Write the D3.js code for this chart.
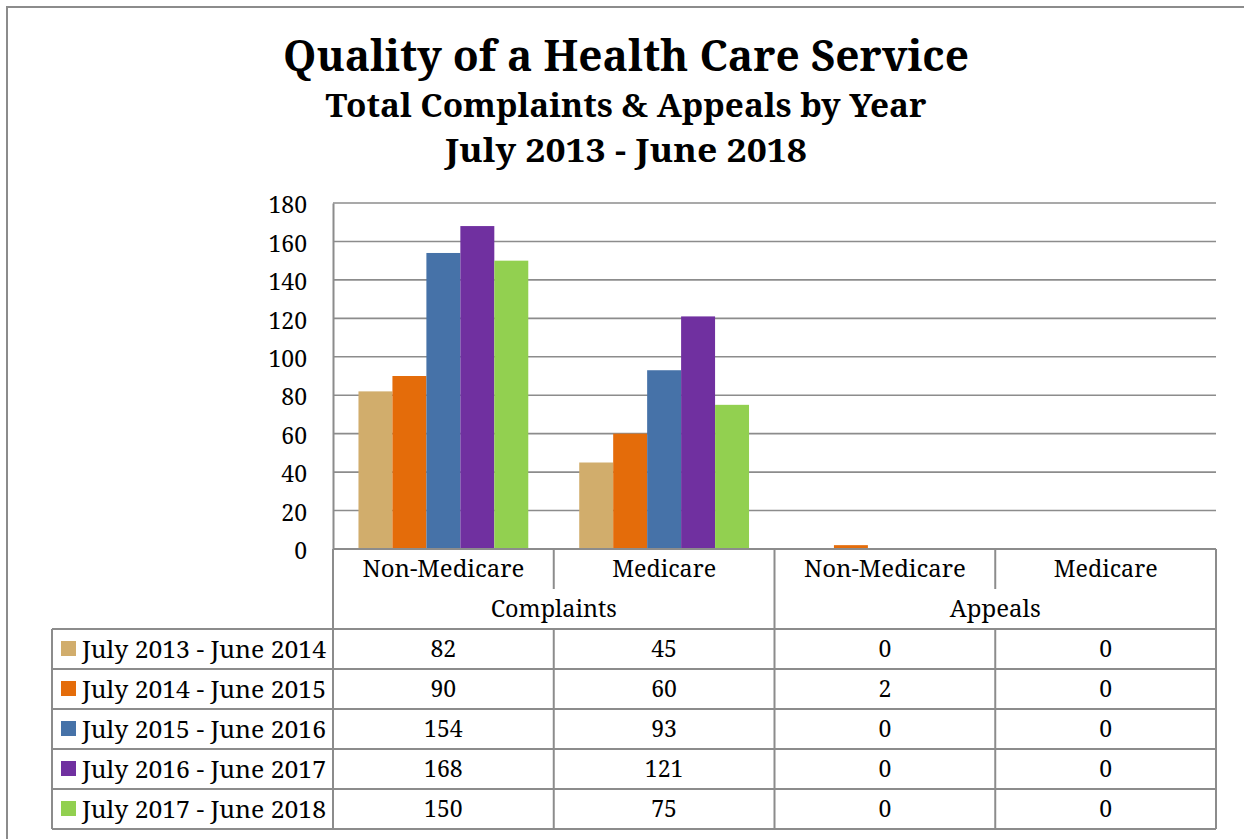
<!DOCTYPE html>
<html><head><meta charset="utf-8">
<script src="https://cdn.jsdelivr.net/npm/d3@7"></script>
<style>html,body{margin:0;padding:0;background:#fff;}svg{display:block;}</style>
</head><body>
<svg id="chart" width="1244" height="839"></svg>
<script>
const titleLines = ["Quality of a Health Care Service", "Total Complaints & Appeals by Year", "July 2013 - June 2018"];
const categories = ["Non-Medicare", "Medicare", "Non-Medicare", "Medicare"];
const groups = ["Complaints", "Appeals"];
const seriesNames = ["July 2013 - June 2014", "July 2014 - June 2015", "July 2015 - June 2016", "July 2016 - June 2017", "July 2017 - June 2018"];
const seriesColors = ["#D1AD6C", "#E46C0A", "#4672A8", "#7030A0", "#92D050"];
const v2013 = [82, 45, 0, 0];
const v2014 = [90, 60, 2, 0];
const v2015 = [154, 93, 0, 0];
const v2016 = [168, 121, 0, 0];
const v2017 = [150, 75, 0, 0];
const seriesValues = [v2013, v2014, v2015, v2016, v2017];
const yTicks = [0, 20, 40, 60, 80, 100, 120, 140, 160, 180];

(function () {
const svg = d3.select("#chart");
const FONT = "Noto Serif";
const GRID = "#8c8c8c";

// page border
svg.append("line").attr("x1", 7).attr("x2", 7).attr("y1", 6).attr("y2", 839).attr("stroke", GRID).attr("stroke-width", 2);
svg.append("line").attr("x1", 6).attr("x2", 1244).attr("y1", 7).attr("y2", 7).attr("stroke", GRID).attr("stroke-width", 2);

// titles
const tinfo = [{y: 71, size: 44, len: 686}, {y: 117, size: 32, len: 601}, {y: 162, size: 32, len: 362}];
titleLines.forEach((t, i) => {
  svg.append("text").attr("x", 626).attr("y", tinfo[i].y).attr("text-anchor", "middle")
    .attr("font-family", FONT).attr("font-weight", "bold").attr("font-size", tinfo[i].size)
    .attr("textLength", tinfo[i].len).attr("lengthAdjust", "spacingAndGlyphs")
    .text(t);
});

const pLeft = 333, pRight = 1216, pTop = 203, pBase = 549;
const y = d3.scaleLinear().domain([0, 180]).range([pBase, pTop]);
const x0 = d3.scaleBand().domain(d3.range(categories.length)).range([pLeft, pRight]).padding(0);
const x1 = d3.scaleBand().domain(d3.range(seriesNames.length)).range([0, x0.bandwidth()]).paddingInner(0).paddingOuter(0.75);

// gridlines
svg.append("g").selectAll("line").data(yTicks.filter(d => d > 0)).join("line")
  .attr("x1", pLeft).attr("x2", pRight).attr("y1", d => y(d)).attr("y2", d => y(d))
  .attr("stroke", GRID).attr("stroke-width", 1.6);

// y axis
const yAxis = d3.axisLeft(y).tickValues(yTicks).tickSize(0).tickPadding(0);
const ya = svg.append("g").attr("transform", `translate(${pLeft},0)`).call(yAxis)
  .attr("font-family", FONT).attr("font-size", 23);
ya.select(".domain").attr("stroke", GRID).attr("stroke-width", 2);
ya.selectAll("text").attr("fill", "#000").attr("x", -26).attr("dy", "0.42em");

// bars
const barData = [];
seriesValues.forEach((vals, si) => vals.forEach((v, ci) => barData.push({si, ci, v})));
svg.append("g").selectAll("rect").data(barData).join("rect")
  .attr("x", d => x0(d.ci) + x1(d.si)).attr("width", x1.bandwidth())
  .attr("y", d => y(d.v)).attr("height", d => pBase - y(d.v))
  .attr("fill", d => seriesColors[d.si]);

// table
const rowH = 40;
const tableG = svg.append("g");
const L = (xa, ya_, xb, yb) => tableG.append("line").attr("x1", xa).attr("y1", ya_).attr("x2", xb).attr("y2", yb).attr("stroke", GRID).attr("stroke-width", 2);
const legLeft = 52;
const rowsTop = pBase + 2 * rowH; // 629
L(pLeft, pBase, pRight, pBase);
for (let r = 0; r <= seriesNames.length; r++) L(legLeft, rowsTop + r * rowH, pRight, rowsTop + r * rowH);
const tBottom = rowsTop + seriesNames.length * rowH;
L(pLeft, pBase, pLeft, tBottom);
L(pRight, pBase, pRight, tBottom);
L(legLeft, rowsTop, legLeft, tBottom);
[1, 3].forEach(c => { L(x0(c), pBase, x0(c), pBase + rowH); L(x0(c), rowsTop, x0(c), tBottom); });
L(x0(2), pBase, x0(2), tBottom);

const txt = (x, yy, s, size, len) => {
  const t = tableG.append("text").attr("x", x).attr("y", yy).attr("text-anchor", "middle").attr("dy", "0.36em")
    .attr("font-family", FONT).attr("font-size", size).attr("fill", "#000").text(s);
  if (len) t.attr("textLength", len).attr("lengthAdjust", "spacingAndGlyphs");
  return t;
};
categories.forEach((c, i) => txt(x0(i) + x0.bandwidth() / 2, pBase + rowH / 2, c, 23, c === "Medicare" ? 104 : 162));
groups.forEach((g, i) => txt(x0(2 * i) + x0.bandwidth(), pBase + rowH * 1.5, g, 23, g === "Complaints" ? 126 : 91));

seriesNames.forEach((s, si) => {
  const cy = rowsTop + si * rowH + rowH / 2;
  tableG.append("rect").attr("x", 61).attr("y", cy - 8).attr("width", 15).attr("height", 15).attr("fill", seriesColors[si]);
  tableG.append("text").attr("x", 82).attr("y", cy).attr("dy", "0.36em").attr("font-family", FONT).attr("font-size", 24)
    .attr("textLength", 244).attr("lengthAdjust", "spacingAndGlyphs").text(s);
  seriesValues[si].forEach((v, ci) => txt(x0(ci) + x0.bandwidth() / 2, cy, String(v), 23));
});
})();
</script>
</body></html>
